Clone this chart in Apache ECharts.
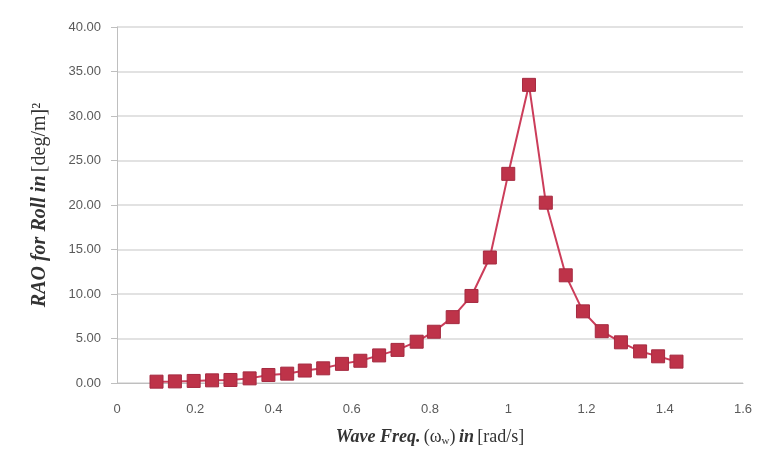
<!DOCTYPE html>
<html>
<head>
<meta charset="utf-8">
<script src="https://cdn.jsdelivr.net/npm/echarts@6/dist/echarts.min.js"></script>
<style>html,body{margin:0;padding:0;background:#fff}#c{width:762px;height:460px}</style>
</head>
<body>
<div id="c"></div>
<script>
// Wave frequency (rad/s)
const freq = [0.101,0.148,0.196,0.243,0.290,0.339,0.387,0.435,0.480,0.527,0.575,0.622,0.670,0.717,0.766,0.810,0.858,0.906,0.953,1.000,1.053,1.096,1.147,1.191,1.239,1.288,1.337,1.383,1.430];
// RAO for roll [deg/m]^2
const rao = [0.15,0.18,0.23,0.30,0.34,0.52,0.90,1.05,1.40,1.65,2.15,2.50,3.10,3.72,4.64,5.76,7.40,9.78,14.10,23.50,33.50,20.26,12.10,8.05,5.82,4.57,3.55,3.00,2.40];
const xTicks = [0,0.2,0.4,0.6,0.8,1,1.2,1.4,1.6];
const yTicks = [0,5,10,15,20,25,30,35,40];

const chart = echarts.init(document.getElementById('c'), null, {renderer:'canvas'});
const labelFont = {color:'#5a5a5a', fontSize:13, fontFamily:'Liberation Sans'};
chart.setOption({
  animation:false,
  backgroundColor:'#fff',
  grid:{left:117,right:19,top:27,bottom:77},
  xAxis:{
    type:'value', min:0, max:1.6, interval:0.2,
    axisLine:{show:true,lineStyle:{color:'#bfbfbf',width:1}},
    axisTick:{show:false},
    splitLine:{show:false},
    axisLabel:Object.assign({margin:20, formatter:v=>String(+v.toFixed(1))}, labelFont),
    name:'{b|Wave Freq.} {n|(ω}{s|w}{n|)} {b|in} {n|[rad/s]}',
    nameLocation:'middle', nameGap:44,
    nameTextStyle:{rich:{
      b:{fontFamily:'Liberation Serif',fontStyle:'italic',fontWeight:'bold',fontSize:18,color:'#333'},
      n:{fontFamily:'Liberation Serif',fontSize:18,color:'#333'},
      s:{fontFamily:'Liberation Serif',fontSize:11,color:'#333',verticalAlign:'bottom',padding:[9,0,0,0]}
    }}
  },
  yAxis:{
    type:'value', min:0, max:40, interval:5,
    axisLine:{show:true,lineStyle:{color:'#bfbfbf',width:1}},
    axisTick:{show:true,length:6,lineStyle:{color:'#bfbfbf'}},
    splitLine:{show:true,lineStyle:{color:'#d9d9d9',width:1.5}},
    axisLabel:Object.assign({margin:16, formatter:v=>v.toFixed(2)}, labelFont),
    name:'{b|RAO for Roll in} {n|[deg/m]²}',
    nameLocation:'middle', nameGap:67, nameRotate:90,
    nameTextStyle:{rich:{
      b:{fontFamily:'Liberation Serif',fontStyle:'italic',fontWeight:'bold',fontSize:20,color:'#333'},
      n:{fontFamily:'Liberation Serif',fontSize:20,color:'#333'}
    }}
  },
  series:[{
    type:'line',
    data:freq.map((f,i)=>[f,rao[i]]),
    symbol:'rect', symbolSize:13,
    lineStyle:{color:'#cc3d5a',width:2},
    itemStyle:{color:'#be3349',borderColor:'#a52a40',borderWidth:1},
    z:3
  }]
});
</script>
</body>
</html>
